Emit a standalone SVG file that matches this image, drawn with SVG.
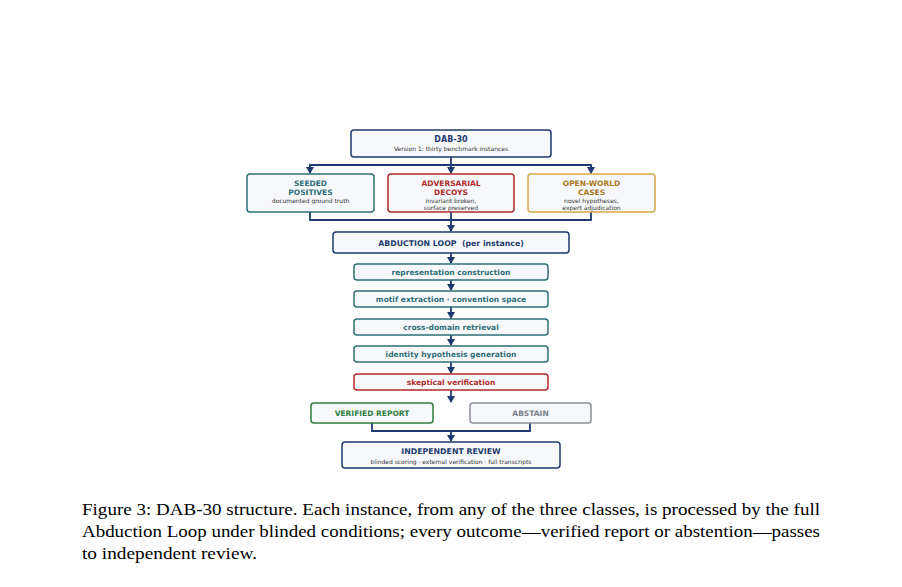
<svg xmlns="http://www.w3.org/2000/svg" width="902" height="587" viewBox="0 0 902 587">
<style>
.b{fill:#f6f8fb;stroke-width:1.5}
.t{font-family:"DejaVu Sans",sans-serif;font-weight:bold;text-anchor:middle}
.s{font-family:"DejaVu Sans",sans-serif;font-size:6px;fill:#333;text-anchor:middle}
.c{fill:none;stroke:#1f3a6e;stroke-width:1.8}
.cap{font-family:"Liberation Serif",serif;font-size:17px;fill:#000}
</style>
<defs><marker id="a" markerWidth="8" markerHeight="8" refX="6" refY="4" orient="auto" markerUnits="userSpaceOnUse"><path d="M0,0 L7,4 L0,8z" fill="#1f3a6e"/></marker></defs>
<rect width="902" height="587" fill="#fff"/>
<g id="connectors">
<path class="c" d="M451,157 V173" marker-end="url(#a)"/>
<path class="c" d="M310,173 V165 H591 V173" marker-end="url(#a)"/>
<path class="c" d="M310,165 V173" marker-end="url(#a)"/>
<path class="c" d="M310,212 V220 H591 V212"/>
<path class="c" d="M451,212 V231" marker-end="url(#a)"/>
<path class="c" d="M451,253 V263" marker-end="url(#a)"/>
<path class="c" d="M451,280 V290" marker-end="url(#a)"/>
<path class="c" d="M451,307 V318" marker-end="url(#a)"/>
<path class="c" d="M451,335 V345" marker-end="url(#a)"/>
<path class="c" d="M451,362 V373" marker-end="url(#a)"/>
<path class="c" d="M451,390 V402" marker-end="url(#a)"/>
<path class="c" d="M372,423 V431 H530 V423"/>
<path class="c" d="M451,431 V441" marker-end="url(#a)"/>
</g>
<g id="dab30"><rect class="b" x="351" y="130" width="200" height="27" rx="3" stroke="#1f3a6e"/><text class="t" x="451" y="142" font-size="8" fill="#1f3a6e">DAB-30</text><text class="s" x="451" y="151">Version 1: thirty benchmark instances</text></g>
<g id="seeded"><rect class="b" x="247" y="174" width="127" height="38" rx="3" stroke="#2e6f78"/><text class="t" x="310.5" y="186" font-size="7.5" fill="#2e6f78">SEEDED</text><text class="t" x="310.5" y="195" font-size="7.5" fill="#2e6f78">POSITIVES</text><text class="s" x="310.5" y="203">documented ground truth</text></g>
<g id="adversarial"><rect class="b" x="388" y="174" width="126" height="38" rx="3" stroke="#b22a2a"/><text class="t" x="451" y="186" font-size="7.5" fill="#b22a2a">ADVERSARIAL</text><text class="t" x="451" y="195" font-size="7.5" fill="#b22a2a">DECOYS</text><text class="s" x="451" y="203">invariant broken,</text><text class="s" x="451" y="210">surface preserved</text></g>
<g id="openworld"><rect class="b" x="528" y="174" width="127" height="38" rx="3" stroke="#d4a94a"/><text class="t" x="591.5" y="186" font-size="7.5" fill="#a9761a">OPEN-WORLD</text><text class="t" x="591.5" y="195" font-size="7.5" fill="#a9761a">CASES</text><text class="s" x="591.5" y="203">novel hypotheses,</text><text class="s" x="591.5" y="210">expert adjudication</text></g>
<g id="loop"><rect class="b" x="333" y="232" width="236" height="21" rx="3" stroke="#1f3a6e"/><text class="t" x="451" y="245.5" font-size="7.8" fill="#1f3a6e" xml:space="preserve">ABDUCTION LOOP  (per instance)</text></g>
<g id="step1"><rect class="b" x="354" y="264" width="194" height="16" rx="3" stroke="#2e6f78"/><text class="t" x="451" y="275" font-size="7.5" fill="#2e6f78">representation construction</text></g>
<g id="step2"><rect class="b" x="354" y="291" width="194" height="16" rx="3" stroke="#2e6f78"/><text class="t" x="451" y="302" font-size="7.5" fill="#2e6f78">motif extraction · convention space</text></g>
<g id="step3"><rect class="b" x="354" y="319" width="194" height="16" rx="3" stroke="#2e6f78"/><text class="t" x="451" y="330" font-size="7.5" fill="#2e6f78">cross-domain retrieval</text></g>
<g id="step4"><rect class="b" x="354" y="346" width="194" height="16" rx="3" stroke="#2e6f78"/><text class="t" x="451" y="357" font-size="7.5" fill="#2e6f78">identity hypothesis generation</text></g>
<g id="step5"><rect class="b" x="354" y="374" width="194" height="16" rx="3" stroke="#b22a2a"/><text class="t" x="451" y="385" font-size="7.5" fill="#b22a2a">skeptical verification</text></g>
<g id="verified"><rect class="b" x="311" y="403" width="122" height="20" rx="3" stroke="#2e7d3e"/><text class="t" x="372" y="416" font-size="7.5" fill="#2e7d3e">VERIFIED REPORT</text></g>
<g id="abstain"><rect class="b" x="470" y="403" width="121" height="20" rx="3" stroke="#8a8f99"/><text class="t" x="530.5" y="416" font-size="7.5" fill="#7a7f88">ABSTAIN</text></g>
<g id="review"><rect class="b" x="342" y="442" width="218" height="26" rx="3" stroke="#1f3a6e"/><text class="t" x="451" y="454" font-size="7.8" fill="#1f3a6e">INDEPENDENT REVIEW</text><text class="s" x="451" y="463.5">blinded scoring · external verification · full transcripts</text></g>
<text class="cap" x="82" y="515" textLength="738" lengthAdjust="spacingAndGlyphs">Figure 3: DAB-30 structure. Each instance, from any of the three classes, is processed by the full</text>
<text class="cap" x="82" y="537" textLength="738" lengthAdjust="spacingAndGlyphs">Abduction Loop under blinded conditions; every outcome—verified report or abstention—passes</text>
<text class="cap" x="82" y="559" textLength="175" lengthAdjust="spacingAndGlyphs">to independent review.</text>
</svg>
